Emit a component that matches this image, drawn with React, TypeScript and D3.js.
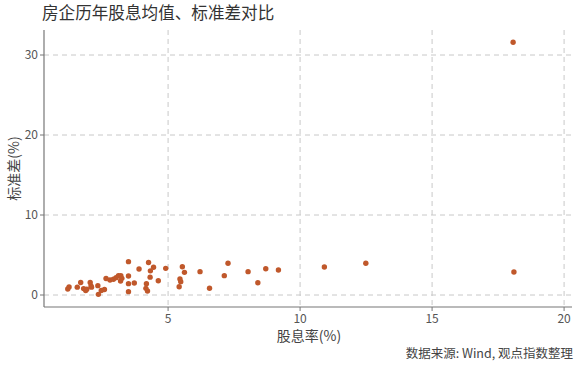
import React from "react";
import * as d3 from "d3";

const title = "房企历年股息均值、标准差对比";
const xLabel = "股息率(%)";
const yLabel = "标准差(%)";
const source = "数据来源: Wind, 观点指数整理";

const dividendYield = [
  1.2, 1.25, 1.56, 1.69, 1.8, 1.88, 1.92, 2.05, 2.08, 2.1, 2.34, 2.36, 2.47, 2.59,
  2.65, 2.8, 2.93, 3.03, 3.12, 3.21, 3.25, 3.2, 3.5, 3.5, 3.5, 3.72, 3.5, 3.9,
  4.26, 4.45, 4.33, 4.32, 4.63, 4.18, 4.16, 4.22, 4.91, 5.54, 5.62, 5.45, 5.48,
  5.42, 6.21, 6.57, 7.13, 7.27, 8.03, 8.4, 8.7, 9.18, 10.92, 12.49, 18.1, 18.07,
];
const stdDev = [
  0.75, 1.0, 0.98, 1.56, 0.8, 0.55, 0.72, 1.56, 1.12, 0.98, 1.17, 0.08, 0.56, 0.69,
  2.06, 1.88, 1.96, 2.17, 2.42, 2.42, 2.08, 1.75, 4.17, 2.37, 1.42, 1.5, 0.42, 3.25,
  4.06, 3.46, 3.02, 2.23, 1.79, 1.42, 0.83, 0.5, 3.33, 3.54, 2.83, 2.0, 1.67,
  1.04, 2.92, 0.85, 2.42, 3.96, 2.92, 1.54, 3.29, 3.12, 3.5, 3.96, 2.88, 31.6,
];
const xTicks = [5, 10, 15, 20];
const yTicks = [0, 10, 20, 30];

const W = 580;
const H = 367;
const left = 44;
const right = 572;
const top = 30;
const bottom = 307;
const font = "'Noto Sans CJK SC', 'Noto Sans', sans-serif";

export default function App() {
  const x = d3.scaleLinear().domain([0.3, 20.3]).range([left, right]);
  const y = d3.scaleLinear().domain([-1.5, 33.125]).range([bottom, top]);
  const pts = dividendYield.map((v, i) => ({ x: v, y: stdDev[i] }));
  return (
    <svg width={W} height={H} style={{ position: "absolute", left: 0, top: 0 }}>
      <rect width={W} height={H} fill="#fff" />
      <text x={42} y={19} fontSize={16.6} fill="#333" fontFamily={font}>
        {title}
      </text>
      {xTicks.map((t) => (
        <line key={"gx" + t} x1={x(t)} x2={x(t)} y1={top} y2={bottom} stroke="#c8c8c8" strokeDasharray="5,4" strokeWidth={1} />
      ))}
      {yTicks.map((t) => (
        <line key={"gy" + t} x1={left} x2={right} y1={y(t)} y2={y(t)} stroke="#c8c8c8" strokeDasharray="5,4" strokeWidth={1} />
      ))}
      <line x1={left} x2={left} y1={top} y2={bottom} stroke="#777" strokeWidth={1.2} />
      <line x1={left} x2={right} y1={bottom} y2={bottom} stroke="#777" strokeWidth={1.2} />
      {xTicks.map((t) => (
        <g key={"tx" + t}>
          <line x1={x(t)} x2={x(t)} y1={bottom} y2={bottom + 4} stroke="#777" />
          <text x={x(t)} y={bottom + 16} fontSize={12} fill="#555" textAnchor="middle" fontFamily={font}>
            {t}
          </text>
        </g>
      ))}
      {yTicks.map((t) => (
        <g key={"ty" + t}>
          <line x1={left - 4} x2={left} y1={y(t)} y2={y(t)} stroke="#777" />
          <text x={left - 6} y={y(t) + 4} fontSize={12} fill="#555" textAnchor="end" fontFamily={font}>
            {t}
          </text>
        </g>
      ))}
      <text x={309} y={341} fontSize={14} fill="#444" textAnchor="middle" fontFamily={font}>
        {xLabel}
      </text>
      <text
        transform={`translate(19, ${(top + bottom) / 2}) rotate(-90)`}
        fontSize={14}
        fill="#444"
        textAnchor="middle"
        fontFamily={font}
      >
        {yLabel}
      </text>
      <text x={573} y={358} fontSize={12.5} fill="#444" textAnchor="end" fontFamily={font}>
        {source}
      </text>
      {pts.map((p, i) => (
        <circle key={i} cx={x(p.x)} cy={y(p.y)} r={2.7} fill="#c0582b" />
      ))}
    </svg>
  );
}
